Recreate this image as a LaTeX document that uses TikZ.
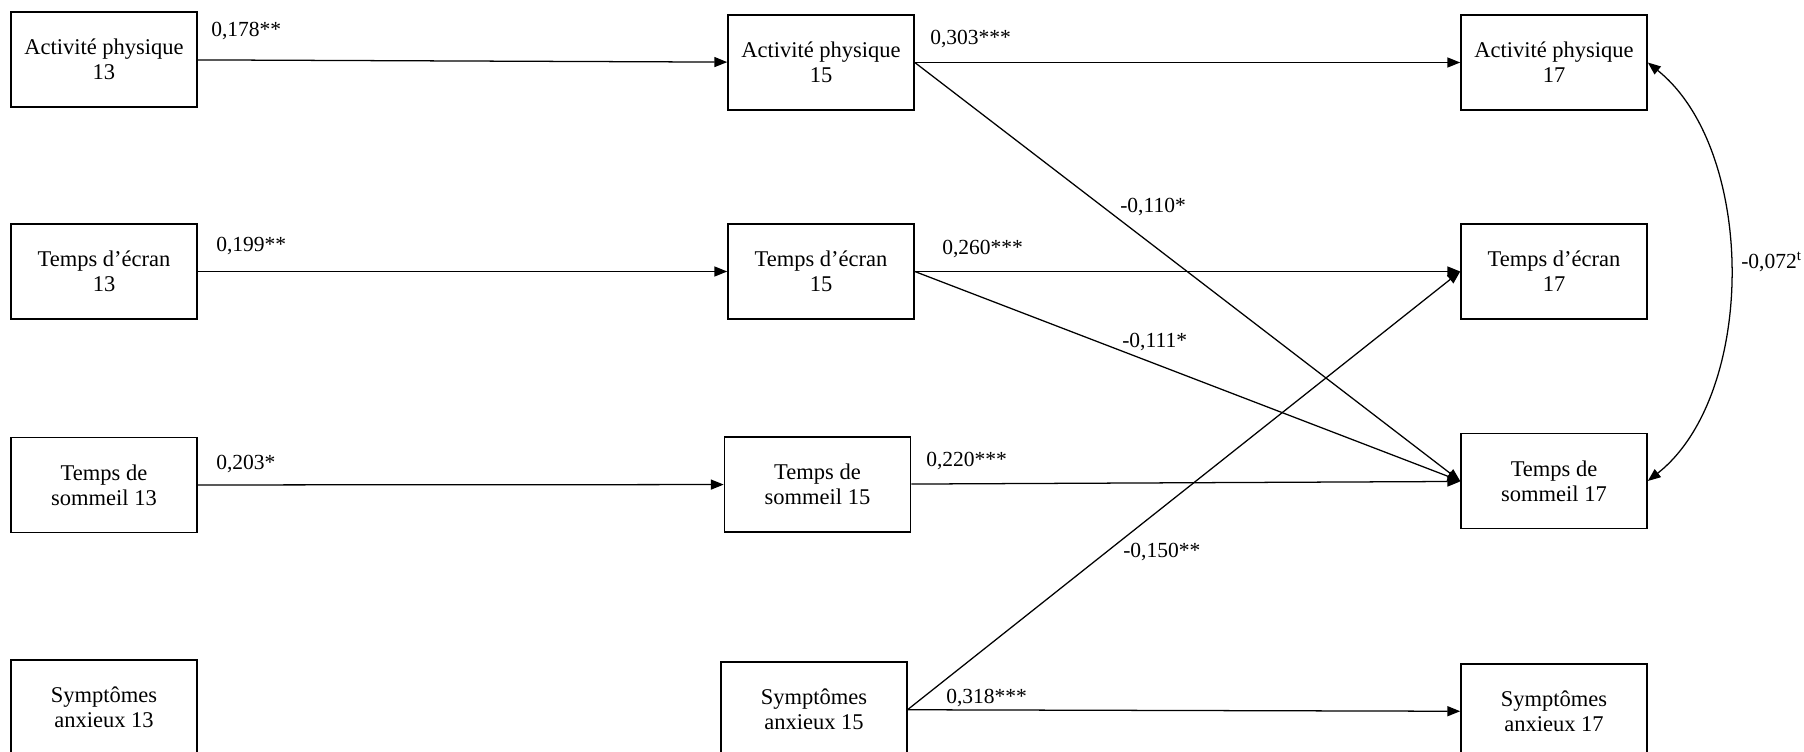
\documentclass[tikz,border=0pt]{standalone}
\usepackage{fontspec}
\setmainfont{Liberation Serif}
\usetikzlibrary{arrows.meta}

\begin{document}
\begin{tikzpicture}[x=0.025cm,y=-0.025cm,
  font=\fontsize{15.3}{17.8}\selectfont,
  var/.style={draw,line width=1.1pt,minimum width=4.65cm,minimum height=2.375cm,align=center,inner sep=0pt,
    font=\fontsize{16}{18}\selectfont},
  coef/.style={anchor=west,inner sep=0pt},
  path/.style={line width=0.9pt,-{Triangle[length=0.32cm,width=0.25cm]}}]
  \useasboundingbox (0,0) rectangle (1804,751);
  % age 13
  \node[var] (ap13) at (104,59.5) {Activité physique\\13};
  \node[var] (te13) at (104,271.5) {Temps d’écran\\13};
  \node[var] (ts13) at (104,485) {Temps de\\sommeil 13};
  \node[var] (sa13) at (104,707.5) {Symptômes\\anxieux 13};
  % age 15
  \node[var] (ap15) at (821,62.5) {Activité physique\\15};
  \node[var] (te15) at (821,271.5) {Temps d’écran\\15};
  \node[var] (ts15) at (817.5,484.5) {Temps de\\sommeil 15};
  \node[var] (sa15) at (814,709.5) {Symptômes\\anxieux 15};
  % age 17
  \node[var] (ap17) at (1554,62.5) {Activité physique\\17};
  \node[var] (te17) at (1554,271.5) {Temps d’écran\\17};
  \node[var] (ts17) at (1554,481) {Temps de\\sommeil 17};
  \node[var] (sa17) at (1554,711.5) {Symptômes\\anxieux 17};
  \path[path]
    (ap13) edge (ap15)
    (ap15) edge (ap17)
    (ap15.east) edge (ts17.west)
    (te13) edge (te15)
    (te15) edge (te17)
    (te15.east) edge (ts17.west)
    (ts13) edge (ts15)
    (ts15) edge (ts17)
    (sa15.east) edge (te17.west)
    (sa15) edge (sa17);
  \draw[line width=0.9pt,{Triangle[length=0.32cm,width=0.25cm]}-{Triangle[length=0.32cm,width=0.25cm]}]
    (ap17.east) .. controls (1757,150) and (1757,395) .. (ts17.east);
  % coefficients
  \node[coef] (c1) at (211,31) {0,178**};
  \node[coef] (c2) at (930,39) {0,303***};
  \node[coef] (c3) at (1120,207) {-0,110*};
  \node[coef] (c4) at (216,246) {0,199**};
  \node[coef] (c5) at (942,249) {0,260***};
  \node[coef] (c6) at (1122,342) {-0,111*};
  \node[coef] (c7) at (216,464) {0,203*};
  \node[coef] (c8) at (926,461) {0,220***};
  \node[coef] (c9) at (1123,552) {-0,150**};
  \node[coef] (c10) at (946,698) {0,318***};
  \node[coef] (c11) at (1741,262) {-0,072\textsuperscript{t}};
\end{tikzpicture}
\end{document}
